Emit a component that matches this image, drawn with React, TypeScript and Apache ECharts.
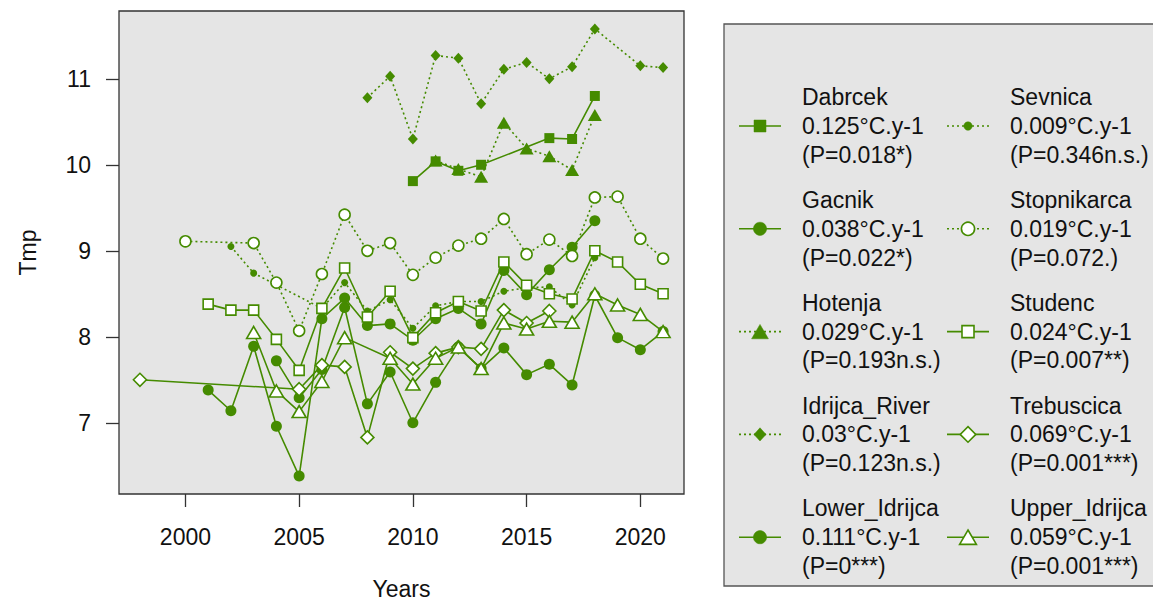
import React, { useEffect, useRef } from "react";
import * as echarts from "echarts";

// ---------- data ----------
const dabrcekYears = [2010, 2011, 2012, 2013, 2016, 2017, 2018];
const dabrcekTmp = [9.81, 10.04, 9.93, 10.0, 10.31, 10.3, 10.8];

const gacnikYears = [2004, 2005, 2006, 2007, 2008, 2009, 2010, 2011, 2012, 2013, 2014, 2015, 2016, 2017, 2018, 2019, 2020, 2021];
const gacnikTmp = [7.72, 7.29, 7.62, 8.34, 7.22, 7.59, 7.0, 7.47, 7.88, 7.63, 7.87, 7.56, 7.68, 7.44, 8.48, 7.99, 7.85, 8.06];

const hotenjaYears = [2011, 2012, 2013, 2014, 2015, 2016, 2017, 2018];
const hotenjaTmp = [10.05, 9.95, 9.86, 10.49, 10.19, 10.1, 9.94, 10.58];

const idrijcaRiverYears = [2008, 2009, 2010, 2011, 2012, 2013, 2014, 2015, 2016, 2017, 2018, 2020, 2021];
const idrijcaRiverTmp = [10.78, 11.03, 10.3, 11.27, 11.24, 10.71, 11.11, 11.19, 11.0, 11.14, 11.58, 11.15, 11.13];

const lowerIdrijcaYears = [2001, 2002, 2003, 2004, 2005, 2006, 2007, 2008, 2009, 2010, 2011, 2012, 2013, 2014, 2015, 2016, 2017, 2018];
const lowerIdrijcaTmp = [7.38, 7.14, 7.89, 6.96, 6.38, 8.21, 8.45, 8.13, 8.15, 7.96, 8.21, 8.33, 8.15, 8.77, 8.49, 8.78, 9.04, 9.35];

const sevnicaYears = [2002, 2003, 2006, 2007, 2008, 2009, 2010, 2011, 2012, 2013, 2014, 2015, 2016, 2017, 2018];
const sevnicaTmp = [9.05, 8.74, 8.33, 8.63, 8.3, 8.43, 8.1, 8.36, 8.41, 8.41, 8.53, 8.57, 8.58, 8.37, 8.92];

const stopnikarcaYears = [2000, 2003, 2004, 2005, 2006, 2007, 2008, 2009, 2010, 2011, 2012, 2013, 2014, 2015, 2016, 2017, 2018, 2019, 2020, 2021];
const stopnikarcaTmp = [9.11, 9.09, 8.63, 8.07, 8.73, 9.42, 9.0, 9.09, 8.72, 8.92, 9.06, 9.14, 9.37, 8.96, 9.13, 8.94, 9.62, 9.63, 9.14, 8.91];

const studencYears = [2001, 2002, 2003, 2004, 2005, 2006, 2007, 2008, 2009, 2010, 2011, 2012, 2013, 2014, 2015, 2016, 2017, 2018, 2019, 2020, 2021];
const studencTmp = [8.38, 8.31, 8.31, 7.97, 7.61, 8.33, 8.8, 8.23, 8.53, 7.99, 8.28, 8.41, 8.3, 8.87, 8.6, 8.5, 8.44, 9.0, 8.87, 8.61, 8.5];

const trebuscicaYears = [1998, 2005, 2006, 2007, 2008, 2009, 2010, 2011, 2012, 2013, 2014, 2015, 2016];
const trebuscicaTmp = [7.5, 7.39, 7.67, 7.65, 6.83, 7.82, 7.63, 7.81, 7.88, 7.86, 8.31, 8.16, 8.3];

const upperIdrijcaYears = [2003, 2004, 2005, 2006, 2007, 2009, 2010, 2011, 2012, 2013, 2014, 2015, 2016, 2017, 2018, 2019, 2020, 2021];
const upperIdrijcaTmp = [8.05, 7.37, 7.13, 7.48, 7.99, 7.75, 7.45, 7.75, 7.88, 7.63, 8.16, 8.09, 8.18, 8.17, 8.5, 8.37, 8.26, 8.06];

const siteNames = ["Dabrcek", "Gacnik", "Hotenja", "Idrijca_River", "Lower_Idrijca", "Sevnica", "Stopnikarca", "Studenc", "Trebuscica", "Upper_Idrijca"];
const siteSlopes = ["0.125°C.y-1", "0.038°C.y-1", "0.029°C.y-1", "0.03°C.y-1", "0.111°C.y-1", "0.009°C.y-1", "0.019°C.y-1", "0.024°C.y-1", "0.069°C.y-1", "0.059°C.y-1"];
const sitePvalues = ["(P=0.018*)", "(P=0.022*)", "(P=0.193n.s.)", "(P=0.123n.s.)", "(P=0***)", "(P=0.346n.s.)", "(P=0.072.)", "(P=0.007**)", "(P=0.001***)", "(P=0.001***)"];
const siteYears = [dabrcekYears, gacnikYears, hotenjaYears, idrijcaRiverYears, lowerIdrijcaYears, sevnicaYears, stopnikarcaYears, studencYears, trebuscicaYears, upperIdrijcaYears];
const siteTmp = [dabrcekTmp, gacnikTmp, hotenjaTmp, idrijcaRiverTmp, lowerIdrijcaTmp, sevnicaTmp, stopnikarcaTmp, studencTmp, trebuscicaTmp, upperIdrijcaTmp];

const xTicks = [2000, 2005, 2010, 2015, 2020];
const yTicks = [7, 8, 9, 10, 11];

// ---------- styles ----------
const GREEN = "#458B00";
const FONT = "'Liberation Sans', Arial, sans-serif";
const TXT = "#111111";
const FS = 23;

type Sty = { symbol: string; size: number[]; filled: boolean; dotted: boolean };
const styles: Sty[] = [
  { symbol: "rect", size: [10, 10], filled: true, dotted: false },
  { symbol: "circle", size: [11, 11], filled: true, dotted: false },
  { symbol: "triangle", size: [14, 12], filled: true, dotted: true },
  { symbol: "diamond", size: [10, 11], filled: true, dotted: true },
  { symbol: "circle", size: [11, 11], filled: true, dotted: false },
  { symbol: "circle", size: [7, 7], filled: true, dotted: true },
  { symbol: "circle", size: [11, 11], filled: false, dotted: true },
  { symbol: "rect", size: [10, 10], filled: false, dotted: false },
  { symbol: "diamond", size: [13, 13], filled: false, dotted: false },
  { symbol: "triangle", size: [14, 12], filled: false, dotted: false },
];
const DOT = [2, 3];

function legendMarker(s: Sty, cx: number, cy: number): any {
  const k = 1.2;
  const w = s.size[0] * k;
  const h = s.size[1] * k;
  const style = {
    fill: s.filled ? GREEN : "#ffffff",
    stroke: GREEN,
    lineWidth: s.filled ? 0.5 : 1.6,
  };
  if (s.symbol === "circle") return { type: "circle", shape: { cx, cy, r: w / 2 }, style };
  if (s.symbol === "rect") return { type: "rect", shape: { x: cx - w / 2, y: cy - h / 2, width: w, height: h }, style };
  if (s.symbol === "triangle")
    return { type: "polygon", shape: { points: [[cx, cy - h / 2], [cx + w / 2, cy + h / 2], [cx - w / 2, cy + h / 2]] }, style };
  return { type: "polygon", shape: { points: [[cx, cy - h / 2], [cx + w / 2, cy], [cx, cy + h / 2], [cx - w / 2, cy]] }, style };
}

export default function App() {
  const ref = useRef<HTMLDivElement>(null);
  useEffect(() => {
    if (!ref.current) return;
    const chart = echarts.init(ref.current, null, { renderer: "svg" });

    const allX = siteYears.flat();
    const allY = siteTmp.flat();
    const xlo = Math.min(...allX), xhi = Math.max(...allX);
    const ylo = Math.min(...allY), yhi = Math.max(...allY);
    const xMin = xlo - 0.04 * (xhi - xlo), xMax = xhi + 0.04 * (xhi - xlo);
    const yMin = ylo - 0.04 * (yhi - ylo), yMax = yhi + 0.04 * (yhi - ylo);

    const series = siteNames.map((name, i) => {
      const s = styles[i];
      return {
        name,
        type: "line",
        data: siteYears[i].map((yr, j) => [yr, siteTmp[i][j]]),
        symbol: s.symbol,
        symbolSize: s.size,
        showSymbol: true,
        showAllSymbol: true,
        lineStyle: { color: GREEN, width: 1.6, type: s.dotted ? DOT : "solid" },
        itemStyle: {
          color: s.filled ? GREEN : "#ffffff",
          borderColor: GREEN,
          borderWidth: s.filled ? 0 : 1.6,
          opacity: 1,
        },
        emphasis: { disabled: true },
        z: 2 + i,
      };
    });

    const graphic: any[] = [
      {
        type: "rect",
        shape: { x: 724, y: 24, width: 460, height: 562 },
        style: { fill: "#e5e5e5", stroke: "#555555", lineWidth: 1.3 },
        z: 0,
      },
    ];
    siteNames.forEach((name, i) => {
      const col = i < 5 ? 0 : 1;
      const row = i % 5;
      const cy = 126 + row * 102.8;
      const lx0 = col === 0 ? 739 : 947;
      const lx1 = lx0 + 42;
      const tx = col === 0 ? 802 : 1010;
      const s = styles[i];
      graphic.push({
        type: "line",
        shape: { x1: lx0, y1: cy, x2: lx1, y2: cy },
        style: { stroke: GREEN, lineWidth: 1.6, lineDash: s.dotted ? DOT : null },
        z: 10,
      });
      graphic.push({ ...legendMarker(s, (lx0 + lx1) / 2, cy), z: 11 });
      [name, siteSlopes[i], sitePvalues[i]].forEach((t, k) => {
        graphic.push({
          type: "text",
          x: tx,
          y: cy + (k - 1) * 28.8,
          style: { text: t, fontSize: FS, fontFamily: FONT, fill: TXT, verticalAlign: "middle", align: "left" },
          z: 11,
        });
      });
    });

    chart.setOption({
      animation: false,
      backgroundColor: "#ffffff",
      grid: {
        left: 119,
        top: 11,
        width: 565,
        height: 483,
        show: true,
        backgroundColor: "#e5e5e5",
        borderColor: "#333333",
        borderWidth: 1.3,
        containLabel: false,
        outerBoundsMode: "none",
      },
      xAxis: {
        type: "value",
        min: xMin,
        max: xMax,
        axisLine: { show: false },
        splitLine: { show: false },
        axisTick: { show: true, customValues: xTicks, length: 13, lineStyle: { color: "#333333", width: 1.3 } },
        axisLabel: {
          customValues: xTicks,
          margin: 31,
          fontSize: FS,
          fontFamily: FONT,
          color: TXT,
          formatter: (v: number) => String(Math.round(v)),
        },
        name: "Years",
        nameLocation: "middle",
        nameGap: 83,
        nameTextStyle: { fontSize: FS, fontFamily: FONT, color: TXT },
      },
      yAxis: {
        type: "value",
        min: yMin,
        max: yMax,
        axisLine: { show: false },
        splitLine: { show: false },
        axisTick: { show: true, customValues: yTicks, length: 13, lineStyle: { color: "#333333", width: 1.3 } },
        axisLabel: {
          customValues: yTicks,
          margin: 28,
          fontSize: FS,
          fontFamily: FONT,
          color: TXT,
          formatter: (v: number) => String(Math.round(v)),
        },
        name: "Tmp",
        nameLocation: "middle",
        nameRotate: 90,
        nameGap: 80,
        nameTextStyle: { fontSize: FS, fontFamily: FONT, color: TXT },
      },
      series,
      graphic,
    } as any);

    return () => chart.dispose();
  }, []);

  return <div ref={ref} style={{ position: "fixed", left: 0, top: 0, width: 1153, height: 601 }} />;
}
